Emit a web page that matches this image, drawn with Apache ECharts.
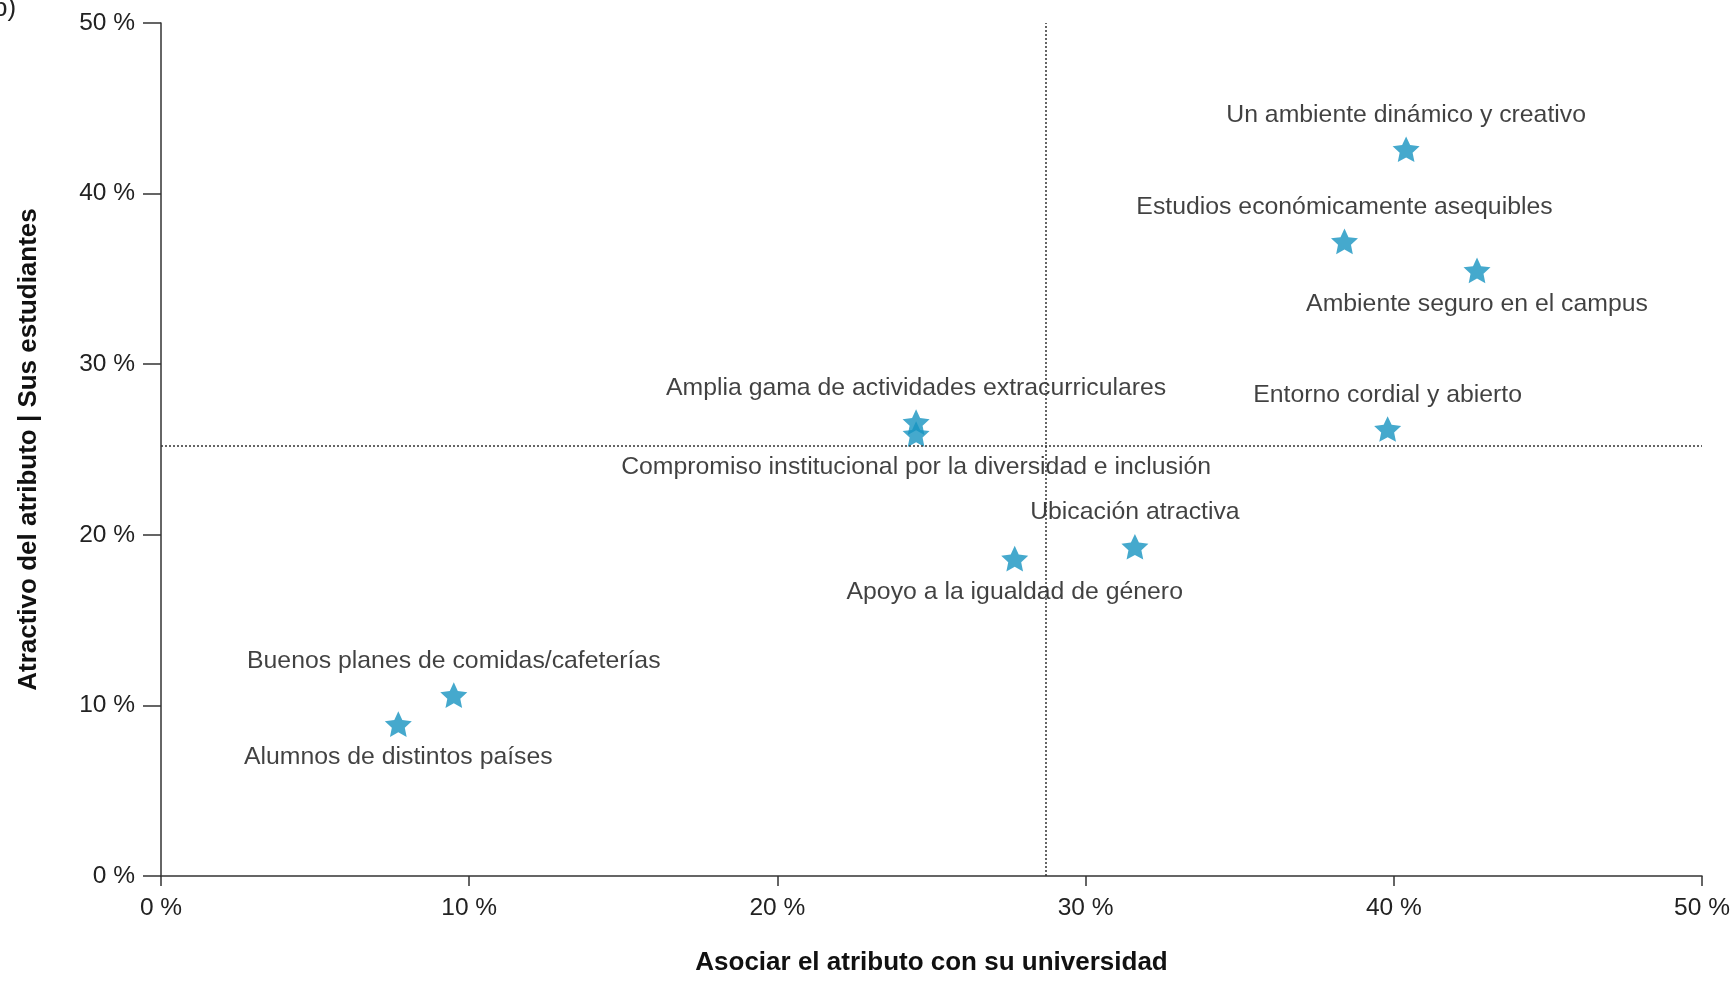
<!DOCTYPE html>
<html>
<head>
<meta charset="utf-8">
<script src="https://cdn.jsdelivr.net/npm/echarts@6/dist/echarts.min.js"></script>
<style>
html,body{margin:0;padding:0;background:#fff;overflow:hidden;}
#chart{width:1734px;height:981px;}
</style>
</head>
<body>
<div id="chart"></div>
<script>
// ---- data ----
const attributes = [
  'Un ambiente dinámico y creativo',
  'Estudios económicamente asequibles',
  'Ambiente seguro en el campus',
  'Entorno cordial y abierto',
  'Amplia gama de actividades extracurriculares',
  'Compromiso institucional por la diversidad e inclusión',
  'Ubicación atractiva',
  'Apoyo a la igualdad de género',
  'Buenos planes de comidas/cafeterías',
  'Alumnos de distintos países'
];
const associateValues = [40.4, 38.4, 42.7, 39.8, 24.5, 24.5, 31.6, 27.7, 9.5, 7.7];
const attractiveValues = [42.6, 37.2, 35.5, 26.2, 26.6, 25.9, 19.3, 18.6, 10.6, 8.9];
const averageAssociate = 28.7;
const averageAttractive = 25.2;
const tickValues = [0, 10, 20, 30, 40, 50];
const xAxisTitle = 'Asociar el atributo con su universidad';
const yAxisTitle = 'Atractivo del atributo | Sus estudiantes';
const panelTag = 'b)';

// ---- styling ----
const labelsBelow = new Set([
  'Ambiente seguro en el campus',
  'Compromiso institucional por la diversidad e inclusión',
  'Apoyo a la igualdad de género',
  'Alumnos de distintos países'
]);
const FONT = '"Liberation Sans", Arial, sans-serif';
const starPath = 'path://M50,0 L64.11,30.58 L97.55,34.55 L72.83,57.42 L79.39,90.45 L50,74 L20.61,90.45 L27.17,57.42 L2.45,34.55 L35.89,30.58 Z';

const points = attributes.map((n, i) => {
  const below = labelsBelow.has(n);
  return {
    name: n,
    value: [associateValues[i], attractiveValues[i]],
    label: { position: below ? 'bottom' : 'top', distance: below ? 8 : 9 }
  };
});

const axisCommon = {
  type: 'value',
  min: tickValues[0],
  max: tickValues[tickValues.length - 1],
  interval: tickValues[1] - tickValues[0],
  splitLine: { show: false },
  axisLine: { show: true, lineStyle: { color: '#333', width: 1.5 } },
  axisLabel: { formatter: '{value} %', color: '#222', fontFamily: FONT, fontSize: 24.5 },
  nameLocation: 'middle',
  nameTextStyle: { fontFamily: FONT, fontSize: 26, fontWeight: 'bold', color: '#111' }
};

const chart = echarts.init(document.getElementById('chart'), null, { renderer: 'canvas' });
chart.setOption({
  animation: false,
  backgroundColor: '#fff',
  grid: { left: 161, right: 32, top: 23, bottom: 97, containLabel: false },
  graphic: [{
    type: 'text', left: -7, top: -4,
    style: { text: panelTag, font: '26px ' + FONT, fill: '#222' }
  }],
  xAxis: Object.assign({}, axisCommon, {
    name: xAxisTitle,
    nameGap: 74,
    axisTick: { show: true, length: 10, lineStyle: { color: '#333', width: 1.5 } },
    axisLabel: Object.assign({}, axisCommon.axisLabel, { margin: 20 })
  }),
  yAxis: Object.assign({}, axisCommon, {
    name: yAxisTitle,
    nameGap: 119,
    axisTick: { show: true, length: 18, lineStyle: { color: '#333', width: 1.5 } },
    axisLabel: Object.assign({}, axisCommon.axisLabel, { margin: 26 })
  }),
  series: [{
    type: 'scatter',
    symbol: starPath,
    symbolKeepAspect: true,
    symbolSize: 27,
    itemStyle: { color: '#1694c1' },
    label: {
      show: true,
      formatter: '{b}',
      color: '#111',
      fontFamily: FONT,
      fontSize: 24.8
    },
    data: points,
    markLine: {
      silent: true,
      symbol: 'none',
      label: { show: false },
      lineStyle: { color: '#333', type: [2, 2], width: 1.5 },
      data: [{ xAxis: averageAssociate }, { yAxis: averageAttractive }]
    }
  }]
});
</script>
</body>
</html>
